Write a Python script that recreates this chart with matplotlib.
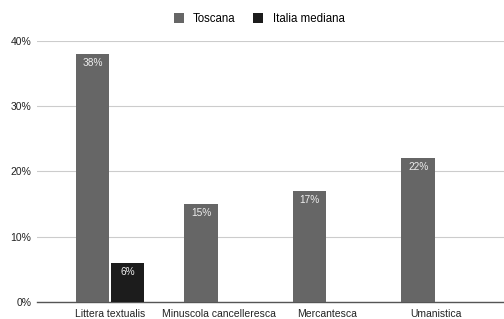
import numpy as np
import matplotlib.pyplot as plt

plt.rcParams['font.family'] = ['Liberation Sans', 'DejaVu Sans']

categories = ["Littera textualis", "Minuscola cancelleresca", "Mercantesca", "Umanistica"]
toscana = [38, 15, 17, 22]
italia_mediana = [6, 0, 0, 0]
yticks = [0, 10, 20, 30, 40]

fig = plt.figure(figsize=(5.04, 3.19), dpi=100)
ax = fig.add_axes([37 / 504, 17 / 319, 467 / 504, 261 / 319])

x = np.arange(len(categories))
w = 0.31
b1 = ax.bar(x - w / 2 - 0.005, toscana, w, color="#666666", label="Toscana", zorder=3)
b2 = ax.bar(x + w / 2 + 0.005, italia_mediana, w, color="#1c1c1c", label="Italia mediana", zorder=3)

# valori in cima alle barre
for bars, vals in [(b1, toscana), (b2, italia_mediana)]:
    for rect, v in zip(bars, vals):
        if v > 0:
            ax.text(rect.get_x() + rect.get_width() / 2, v - 0.6, f"{v}%",
                    ha="center", va="top", color="#eeeeee", fontsize=7.3, zorder=4)

ax.set_xlim(-0.673, 3.631)
ax.set_ylim(0, 40)
ax.set_yticks(yticks)
ax.set_yticklabels([f"{t}%" for t in yticks], fontsize=7.5, color="#222222")
ax.set_xticks(x)
ax.set_xticklabels(categories, fontsize=7.5, color="#222222")
ax.tick_params(axis="x", length=0, pad=5)
ax.tick_params(axis="y", length=0, pad=4)
ax.grid(axis="y", color="#cccccc", linewidth=0.8, zorder=0)
for s in ["top", "right", "left"]:
    ax.spines[s].set_visible(False)
ax.spines["bottom"].set_color("#555555")
ax.spines["bottom"].set_linewidth(1)

fig.legend(loc="center", bbox_to_anchor=(259 / 504, 1 - 19 / 319), ncol=2, frameon=False,
           fontsize=8.3, handlelength=0.9, handleheight=0.9, handletextpad=0.8, columnspacing=1.5)

fig.savefig("out.png", dpi=100)
